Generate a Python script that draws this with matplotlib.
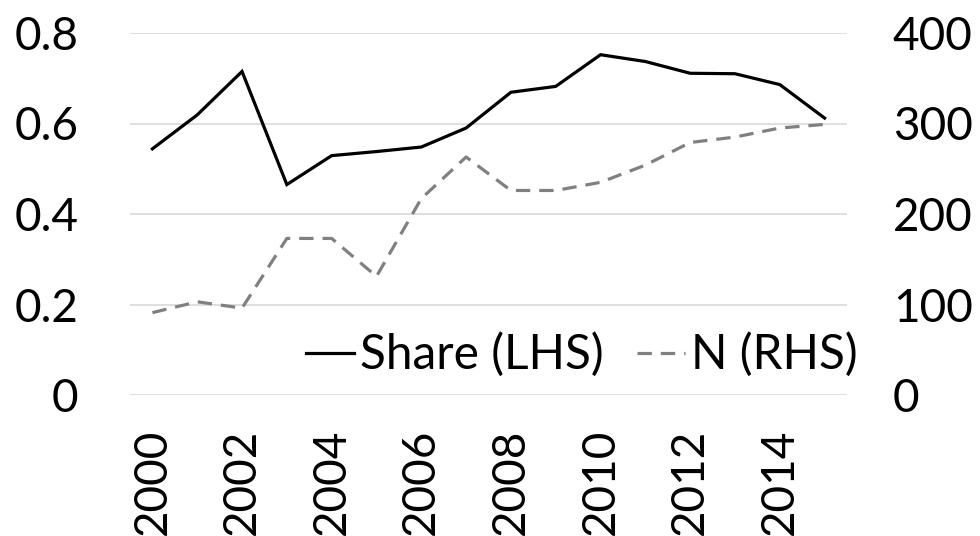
import matplotlib
matplotlib.use("Agg")
import matplotlib.pyplot as plt

years = list(range(2000, 2016))
share = [0.544, 0.619, 0.715, 0.465, 0.529, 0.538, 0.548, 0.590,
         0.669, 0.682, 0.752, 0.737, 0.711, 0.710, 0.686, 0.612]
n_obs = [91, 103, 96, 173, 173, 131, 217, 263,
         226, 226, 235, 254, 279, 285, 295, 299]
left_ticks = [0, 0.2, 0.4, 0.6, 0.8]
left_labels = ["0", "0.2", "0.4", "0.6", "0.8"]
right_ticks = [0, 100, 200, 300, 400]
x_tick_years = list(range(2000, 2015, 2))

plt.rcParams['font.family'] = ['Lato', 'DejaVu Sans']
FS = 33

fig = plt.figure(figsize=(9.8, 5.36), dpi=100)
ax = fig.add_axes([130/980, 1-395/536, (847-130)/980, (395-33)/536])
ax2 = ax.twinx()

xs = list(range(len(years)))
l1, = ax.plot(xs, share, color='black', lw=2.3, solid_joinstyle='miter', label='Share (LHS)')
l2, = ax2.plot(xs, n_obs, color='#808080', lw=2.3, dashes=(4.5, 2.8), label='N (RHS)')

ax.set_xlim(-0.5, len(years) - 0.5)
ax.set_ylim(0, 0.8)
ax2.set_ylim(0, 400)
ax.set_yticks(left_ticks)
ax.set_yticklabels(left_labels)
ax2.set_yticks(right_ticks)
ax2.set_yticklabels([str(t) for t in right_ticks])
ax.set_xticks([years.index(y) for y in x_tick_years])
ax.set_xticklabels([str(y) for y in x_tick_years], rotation=90)

ax.grid(axis='y', color='#d9d9d9', lw=1.2)
ax.set_axisbelow(True)
for a in (ax, ax2):
    for s in a.spines.values():
        s.set_visible(False)
ax.tick_params(axis='y', length=0, labelsize=FS, pad=37)
ax2.tick_params(axis='y', length=0, labelsize=FS, pad=33)
ax.tick_params(axis='x', length=0, labelsize=FS, pad=24)

fig.legend(handles=[l1, l2], loc='center left', bbox_to_anchor=(306/980, 1-355/536),
           ncol=2, frameon=False, fontsize=34.5, handlelength=1.0, handletextpad=0.12,
           columnspacing=0.7, borderpad=0, borderaxespad=0)

fig.savefig("out.png", dpi=100)
